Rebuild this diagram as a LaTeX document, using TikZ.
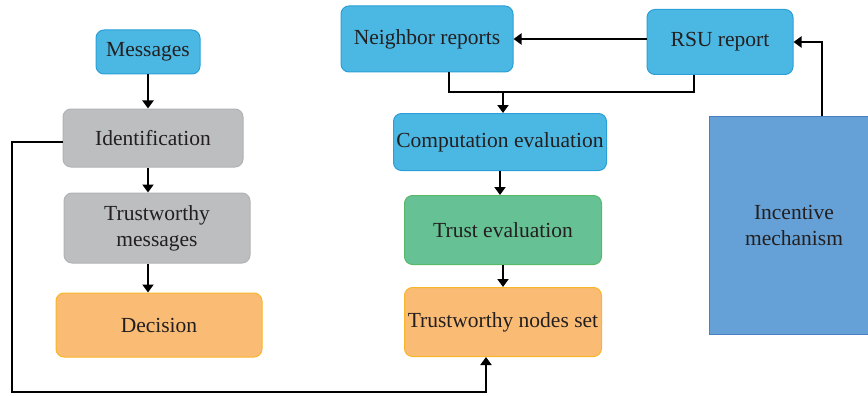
\documentclass[tikz,border=0pt]{standalone}
\usepackage{fontspec}
\setmainfont{Liberation Serif}
\usetikzlibrary{arrows.meta}
\definecolor{inkgray}{HTML}{231F20}
\definecolor{skyfill}{HTML}{4BB8E3}
\definecolor{skyline}{HTML}{2C9ED8}
\definecolor{greyfill}{HTML}{BCBEC0}
\definecolor{greyline}{HTML}{B0B2B4}
\definecolor{orangefill}{HTML}{FABC75}
\definecolor{orangeline}{HTML}{F8B628}
\definecolor{greenfill}{HTML}{66C194}
\definecolor{greenline}{HTML}{58B96A}
\definecolor{steelfill}{HTML}{65A1D6}
\definecolor{steelline}{HTML}{4A7EC2}
\begin{document}
\begin{tikzpicture}[x=1pt,y=-1pt,
  box/.style={rounded corners=8pt, line width=1pt, align=center, inner sep=0pt,
    text=inkgray, font=\fontsize{21.5}{26}\selectfont},
  skybox/.style={box, fill=skyfill, draw=skyline},
  greybox/.style={box, fill=greyfill, draw=greyline},
  orangebox/.style={box, fill=orangefill, draw=orangeline},
  greenbox/.style={box, fill=greenfill, draw=greenline},
  conn/.style={line width=2.6pt, draw=black, -{Triangle[length=8pt,width=11pt]}},
  plain/.style={line width=2.6pt, draw=black}]
\useasboundingbox (0,0) rectangle (868,396);

% left column
\node[skybox, minimum width=104pt, minimum height=44pt] (msg) at (148,52) {Messages};
\node[greybox, minimum width=180pt, minimum height=58pt] (ident) at (153,138) {Identification};
\node[greybox, minimum width=186pt, minimum height=70pt] (tmsg) at (157,228) {Trustworthy\\messages};
\node[orangebox, minimum width=206pt, minimum height=64pt] (dec) at (159,325) {Decision};

% middle column
\node[skybox, minimum width=172pt, minimum height=66pt] (nr) at (427,39) {Neighbor reports};
\node[skybox, minimum width=213pt, minimum height=57pt] (comp) at (500,142) {Computation evaluation};
\node[greenbox, minimum width=197pt, minimum height=69pt] (trust) at (503,230) {Trust evaluation};
\node[orangebox, minimum width=197pt, minimum height=69pt] (tns) at (503,322) {Trustworthy nodes set};

% right column
\node[skybox, minimum width=146pt, minimum height=65pt] (rsu) at (720,42) {RSU report};
\node[box, rounded corners=0pt, fill=steelfill, draw=steelline,
  minimum width=170pt, minimum height=218pt] (inc) at (794,225) {Incentive\\mechanism};

% connectors
\draw[conn] (msg.south) -- (msg.south |- ident.north);
\draw[conn] (msg.south |- ident.south) -- (msg.south |- tmsg.north);
\draw[conn] (msg.south |- tmsg.south) -- (msg.south |- dec.north);

\coordinate (loop) at (12,392);
\draw[conn] ([yshift=-4pt]ident.west) -| (loop) -| ([xshift=-17pt]tns.south);

\coordinate (join) at (503,92);
\draw[plain] ([xshift=22pt]nr.south) |- (join) -| ([xshift=-26pt]rsu.south);
\draw[conn] (join) -- (join |- comp.north);
\draw[conn] (comp.south) -- (comp.south |- trust.north);
\draw[conn] (trust.south) -- (tns.north);

\draw[conn] (nr.east -| rsu.west) -- (nr.east);
\draw[conn] ([xshift=28pt]inc.north) |- (rsu.east);
\end{tikzpicture}
\end{document}
